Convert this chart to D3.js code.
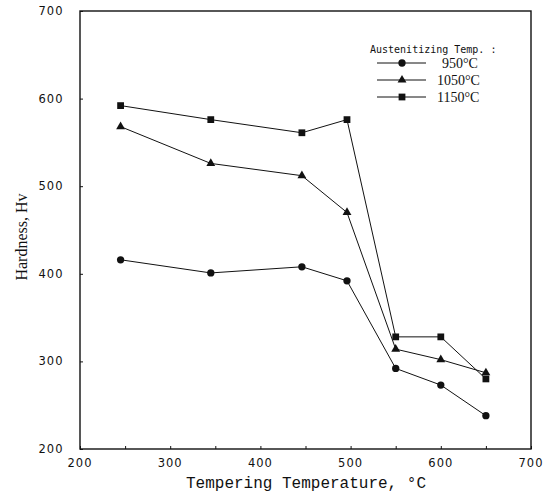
<!DOCTYPE html>
<html><head><meta charset="utf-8">
<script src="https://cdn.jsdelivr.net/npm/d3@7"></script>
<style>html,body{margin:0;padding:0;background:#fff;}</style>
</head><body>
<script>
const temps = [245, 345, 446, 496, 550, 600, 650];
const hv950 = [416, 401, 408, 392, 292, 273, 238];
const hv1050 = [568, 526, 512, 470, 314, 302, 287];
const hv1150 = [592, 576, 561, 576, 328, 328, 280];
const xTicks = [200, 300, 400, 500, 600, 700];
const yTicks = [200, 300, 400, 500, 600, 700];
const seriesNames = ["950\u00B0C", "1050\u00B0C", "1150\u00B0C"];
const legendTitle = "Austenitizing Temp. :";

const W = 555, H = 500;
const svg = d3.select("body").append("svg").attr("width", W).attr("height", H);
const x = d3.scaleLinear().domain([200, 700]).range([80, 531]);
const y = d3.scaleLinear().domain([200, 700]).range([449, 11]);
const ink = "#111";

// frame
svg.append("rect").attr("x", x(200)).attr("y", y(700))
  .attr("width", x(700) - x(200)).attr("height", y(200) - y(700))
  .attr("fill", "none").attr("stroke", ink).attr("stroke-width", 1.4);

// axes with inward ticks
const xAxis = svg.append("g").attr("transform", `translate(0,${y(200)})`)
  .call(d3.axisBottom(x).tickValues(d3.range(200, 701, 50)).tickSize(-3).tickFormat(""));
xAxis.select(".domain").remove();
xAxis.selectAll("line").attr("stroke", ink);
const yAxis = svg.append("g").attr("transform", `translate(${x(200)},0)`)
  .call(d3.axisLeft(y).tickValues(yTicks).tickSize(-3).tickFormat(""));
yAxis.select(".domain").remove();
yAxis.selectAll("line").attr("stroke", ink);

// tick labels
svg.selectAll(".xl").data(xTicks).enter().append("text")
  .attr("x", d => x(d)).attr("y", 467).attr("text-anchor", "middle")
  .attr("font-family", "DejaVu Sans").attr("font-size", 11.5).attr("fill", ink)
  .attr("letter-spacing", 1).text(d => d);
svg.selectAll(".yl").data(yTicks).enter().append("text")
  .attr("x", 51).attr("y", d => y(d) + 4).attr("text-anchor", "middle")
  .attr("font-family", "DejaVu Sans").attr("font-size", 11.5).attr("fill", ink)
  .attr("letter-spacing", 1).text(d => d);

// axis titles
svg.append("text").attr("x", 306).attr("y", 488).attr("text-anchor", "middle")
  .attr("font-family", "Liberation Mono").attr("font-size", 16).attr("fill", ink)
  .text("Tempering Temperature, \u00B0C");
svg.append("text").attr("transform", "translate(27,237) rotate(-90)")
  .attr("text-anchor", "middle").attr("font-family", "Liberation Serif")
  .attr("font-size", 16).attr("fill", ink).text("Hardness, Hv");

// series
const series = [
  {vals: hv950, sym: d3.symbolCircle, size: 42},
  {vals: hv1050, sym: d3.symbolTriangle, size: 34},
  {vals: hv1150, sym: d3.symbolSquare, size: 46}
];
const line = d3.line().x(d => x(d[0])).y(d => y(d[1]));
series.forEach(s => {
  const pts = temps.map((t, i) => [t, s.vals[i]]);
  svg.append("path").attr("d", line(pts)).attr("fill", "none")
    .attr("stroke", ink).attr("stroke-width", 1);
  svg.selectAll(null).data(pts).enter().append("path")
    .attr("transform", d => `translate(${x(d[0])},${y(d[1])})`)
    .attr("d", d3.symbol().type(s.sym).size(s.size)).attr("fill", ink);
});

// legend
svg.append("text").attr("x", 370).attr("y", 53).attr("font-family", "DejaVu Sans Mono")
  .attr("font-size", 10).attr("fill", ink).text(legendTitle);
series.forEach((s, i) => {
  const ly = 63 + i * 17;
  svg.append("line").attr("x1", 377).attr("x2", 426).attr("y1", ly).attr("y2", ly)
    .attr("stroke", ink).attr("stroke-width", 1);
  svg.append("path").attr("transform", `translate(402,${ly})`)
    .attr("d", d3.symbol().type(s.sym).size(s.size)).attr("fill", ink);
  svg.append("text").attr("x", i === 0 ? 442 : 437).attr("y", ly + 5)
    .attr("font-family", "Liberation Serif").attr("font-size", 14).attr("fill", ink)
    .text(seriesNames[i]);
});
</script>
</body></html>
